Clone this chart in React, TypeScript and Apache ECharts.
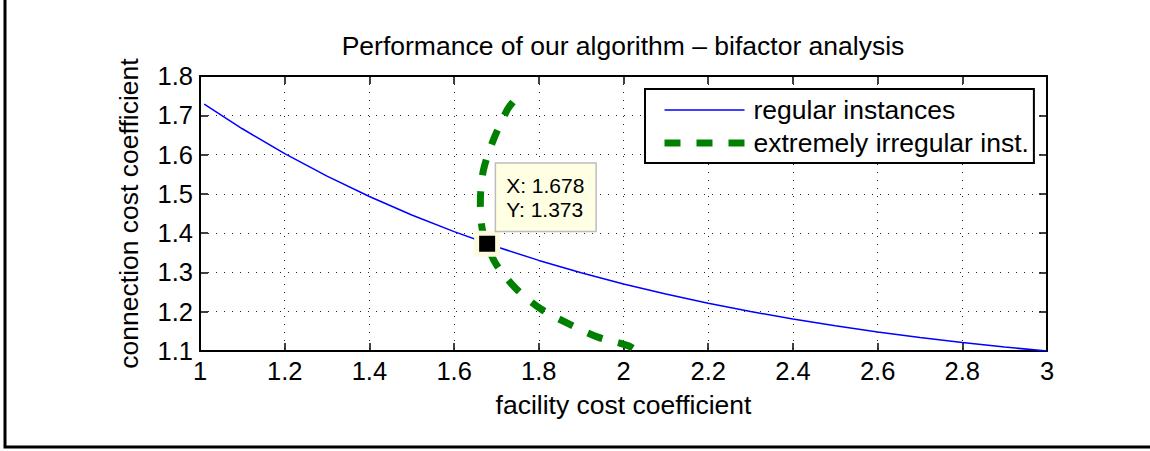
import React, { useEffect, useRef } from 'react';
import * as echarts from 'echarts';

const FONT = '"Liberation Sans", Arial, Helvetica, sans-serif';

const titleText = 'Performance of our algorithm \u2013 bifactor analysis';
const xAxisName = 'facility cost coefficient';
const yAxisName = 'connection cost coefficient';
const seriesNames = ['regular instances', 'extremely irregular inst.'];

const regularX = [1.01, 1.1, 1.2, 1.3, 1.4, 1.5, 1.6, 1.7, 1.8, 1.9, 2.0, 2.1, 2.2, 2.3, 2.4, 2.5, 2.6, 2.7, 2.8, 2.9, 3.0];
const regularY = [1.7284, 1.6657, 1.6024, 1.5451, 1.4932, 1.4463, 1.4038, 1.3654, 1.3306, 1.2991, 1.2707, 1.2449, 1.2216, 1.2005, 1.1814, 1.1642, 1.1485, 1.1344, 1.1216, 1.11, 1.1];

const irregularX = [1.739, 1.725, 1.693, 1.669, 1.662, 1.666, 1.678, 1.699, 1.747, 1.805, 1.871, 1.938, 2.012, 2.032];
const irregularY = [1.734, 1.713, 1.638, 1.559, 1.478, 1.413, 1.373, 1.321, 1.258, 1.207, 1.169, 1.136, 1.113, 1.1];

const tipX = 1.678;
const tipY = 1.373;

const xMin = 1, xMax = 3, xStep = 0.2;
const yMin = 1.1, yMax = 1.8, yStep = 0.1;

export default function App() {
  const ref = useRef<HTMLDivElement>(null);
  useEffect(() => {
    if (!ref.current) return;
    const chart = echarts.init(ref.current, undefined, { renderer: 'svg' });
    const regData = regularX.map((x, i) => [x, regularY[i]]);
    const irrData = irregularX.map((x, i) => [x, irregularY[i]]);
    const gridLine = { show: true, lineStyle: { color: '#222', width: 1, type: [1, 7] as any } };
    const tick = { show: true, inside: true, length: 8, lineStyle: { color: '#000', width: 1.5 } };
    const line = { show: true, lineStyle: { color: '#000', width: 2 } };
    chart.setOption({
      animation: false,
      backgroundColor: '#fff',
      textStyle: { fontFamily: FONT },
      grid: { left: 200, right: 103, top: 76, bottom: 100, containLabel: false },
      legend: {
        orient: 'vertical',
        left: 645,
        top: 89,
        padding: [7, 5, 6, 16],
        itemWidth: 80,
        itemHeight: 14,
        itemGap: 5,
        backgroundColor: '#fff',
        borderColor: '#000',
        borderWidth: 2,
        borderRadius: 0,
        itemStyle: { opacity: 0 },
        textStyle: { fontSize: 26.5, fontFamily: FONT, color: '#000', lineHeight: 28, padding: [0, 0, 0, 4] },
        data: [
          { name: seriesNames[0], lineStyle: { width: 1.5, color: '#0000ff', type: 'solid' } },
          { name: seriesNames[1], lineStyle: { width: 7, color: '#008000', type: [16, 16], cap: 'butt' } },
        ],
      },
      xAxis: [
        {
          type: 'value', min: xMin, max: xMax, interval: xStep,
          name: xAxisName, nameLocation: 'middle', nameGap: 40,
          nameTextStyle: { fontSize: 26.5, color: '#000', fontFamily: FONT },
          axisLine: line, axisTick: tick, splitLine: gridLine,
          axisLabel: { fontSize: 25.5, color: '#000', margin: 7, fontFamily: FONT },
        },
        {
          type: 'value', min: xMin, max: xMax, interval: xStep, position: 'top',
          axisLine: line, axisTick: tick, splitLine: { show: false }, axisLabel: { show: false },
        },
      ],
      yAxis: [
        {
          type: 'value', min: yMin, max: yMax, interval: yStep,
          name: yAxisName, nameLocation: 'middle', nameGap: 58,
          nameTextStyle: { fontSize: 26.5, color: '#000', fontFamily: FONT },
          axisLine: line, axisTick: tick, splitLine: gridLine,
          axisLabel: { fontSize: 25.5, color: '#000', margin: 7, fontFamily: FONT },
        },
        {
          type: 'value', min: yMin, max: yMax, interval: yStep, position: 'right',
          axisLine: line, axisTick: tick, splitLine: { show: false }, axisLabel: { show: false },
        },
      ],
      series: [
        {
          name: seriesNames[0], type: 'line', data: regData, symbol: 'none', smooth: false,
          lineStyle: { color: '#0000ff', width: 1.5 }, itemStyle: { color: '#0000ff' }, z: 3,
        },
        {
          name: seriesNames[1], type: 'line', data: irrData, symbol: 'none', smooth: 0.3,
          lineStyle: { color: '#008000', width: 7, type: [16, 16], cap: 'butt' }, itemStyle: { color: '#008000' }, z: 4,
        },
        {
          name: 'tipHalo', type: 'scatter', data: [[tipX, tipY]], symbol: 'rect', symbolSize: 26,
          itemStyle: { color: '#fdfbdc', opacity: 1 }, silent: true, z: 5,
        },
        {
          name: 'tip', type: 'scatter', data: [[tipX, tipY]], symbol: 'rect', symbolSize: 16,
          itemStyle: { color: '#000', opacity: 1 }, silent: true, z: 6,
          label: {
            show: true,
            position: [17, -72],
            align: 'left',
            verticalAlign: 'top',
            formatter: (p: any) => `X: ${p.value[0].toFixed(3)}\nY: ${p.value[1].toFixed(3)}`,
            fontSize: 21,
            lineHeight: 24,
            color: '#000',
            fontFamily: FONT,
            backgroundColor: '#ffffe3',
            borderColor: '#bdbdbd',
            borderWidth: 1.5,
            padding: [10, 11, 9, 10],
          },
        },
      ],
      graphic: [
        {
          type: 'polyline', silent: true, z: 10,
          shape: { points: [[5, 0], [5, 447], [1150, 447]] },
          style: { stroke: '#000', lineWidth: 3, fill: null },
        },
        {
          type: 'text', x: 623, y: 46, silent: true,
          style: { text: titleText, fontSize: 26.5, fontFamily: FONT, fill: '#000', textAlign: 'center', textVerticalAlign: 'middle' },
        },
      ],
    });
    return () => chart.dispose();
  }, []);
  return <div ref={ref} style={{ position: 'fixed', left: 0, top: 0, width: 1150, height: 451 }} />;
}
